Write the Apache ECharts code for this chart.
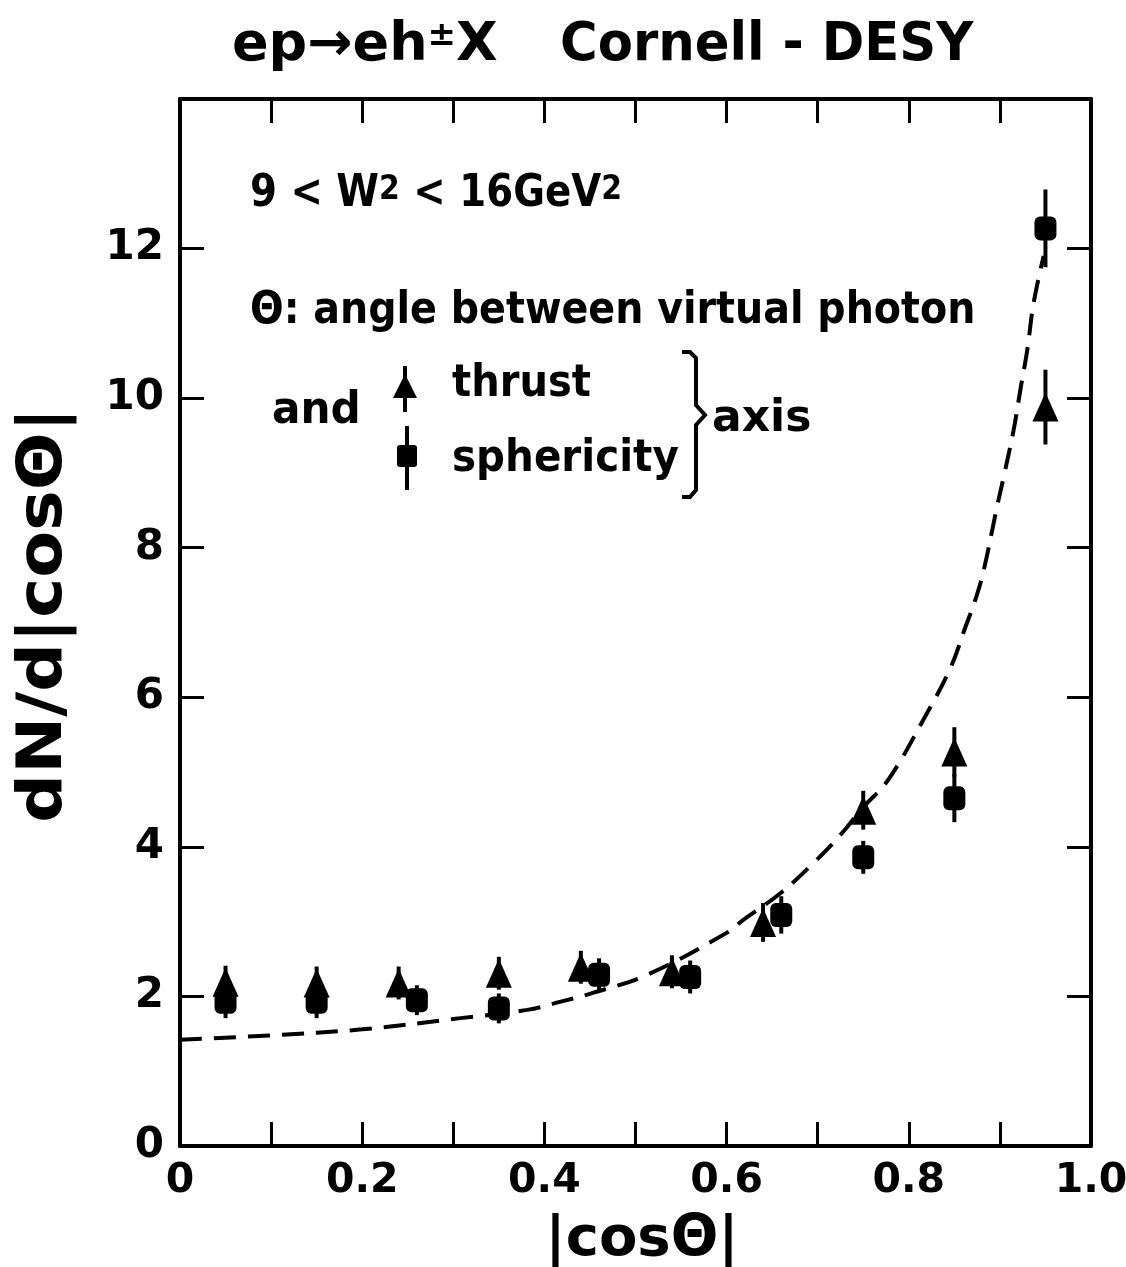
<!DOCTYPE html>
<html>
<head>
<meta charset="utf-8">
<script src="https://cdn.jsdelivr.net/npm/echarts@6/dist/echarts.min.js"></script>
<style>
  html, body { margin: 0; padding: 0; background: #fff; overflow: hidden; }
  #chart { width: 1126px; height: 1267px; }
</style>
</head>
<body>
<div id="chart"></div>
<script>
// thrust axis (triangles)
var thrustX   = [0.05, 0.15, 0.24, 0.35, 0.44, 0.54, 0.64, 0.75, 0.85, 0.95];
var thrustY   = [2.19, 2.18, 2.18, 2.31, 2.39, 2.33, 2.99, 4.49, 5.27, 9.88];
var thrustErr = [0.22, 0.22, 0.22, 0.22, 0.22, 0.22, 0.26, 0.26, 0.33, 0.50];
// sphericity axis (squares)
var spherX    = [0.05, 0.15, 0.26, 0.35, 0.46, 0.56, 0.66, 0.75, 0.85, 0.95];
var spherY    = [1.93, 1.93, 1.95, 1.84, 2.29, 2.26, 3.09, 3.86, 4.65, 12.27];
var spherErr  = [0.22, 0.22, 0.20, 0.20, 0.22, 0.22, 0.25, 0.22, 0.32, 0.52];
// dashed curve
var curveX = [0, 0.1, 0.2, 0.308, 0.381, 0.418, 0.454, 0.513, 0.6, 0.618, 0.659, 0.695, 0.725, 0.75,
              0.777, 0.816, 0.846, 0.861, 0.874, 0.883, 0.896, 0.904, 0.915, 0.923, 0.93, 0.937, 0.948];
var curveY = [1.42, 1.48, 1.56, 1.71, 1.82, 1.93, 2.05, 2.29, 2.85, 3.02, 3.38, 3.78, 4.16, 4.53,
              4.89, 5.70, 6.40, 6.90, 7.34, 7.74, 8.50, 8.94, 9.57, 10.15, 10.64, 11.27, 11.9];
var xTickLabels = ['0', '0.2', '0.4', '0.6', '0.8', '1.0'];
var yTickLabels = ['0', '2', '4', '6', '8', '10', '12'];

var FONT = "'DejaVu Sans', 'Liberation Sans', sans-serif";

function zip3(a, b, c) {
    var out = [];
    for (var i = 0; i < a.length; i++) out.push([a[i], b[i], c[i]]);
    return out;
}
function zip2(a, b) {
    var out = [];
    for (var i = 0; i < a.length; i++) out.push([a[i], b[i]]);
    return out;
}

// vertical error bar drawn through the axes
function errBar(params, api) {
    var x = api.value(0), y = api.value(1), e = api.value(2);
    var p1 = api.coord([x, y + e]);
    var p2 = api.coord([x, y - e]);
    return {
        type: 'line',
        shape: { x1: p1[0], y1: p1[1], x2: p2[0], y2: p2[1] },
        style: { stroke: '#000', lineWidth: 4 }
    };
}

// bold text, squeezed a little to get the narrow look of the original lettering
function txt(x, y, s, size, sx) {
    return { type: 'text', x: x, y: y, scaleX: sx || 1, style: {
        text: s, font: 'bold ' + size + 'px ' + FONT, fill: '#000', textVerticalAlign: 'middle' } };
}

var chart = echarts.init(document.getElementById('chart'));

var axisLine = { show: true, onZero: false, lineStyle: { color: '#000', width: 4 } };
var tick = { show: true, inside: true, length: 24, lineStyle: { color: '#000', width: 3 } };

var option = {
    animation: false,
    backgroundColor: '#fff',
    grid: { left: 180, right: 35, top: 99, bottom: 121, containLabel: false, outerBoundsMode: 'none' },
    xAxis: [{
        type: 'value', min: 0, max: 1, interval: 0.1, position: 'bottom',
        axisLine: axisLine, axisTick: tick,
        axisLabel: {
            color: '#000', fontSize: 41, fontWeight: 'bold', fontFamily: FONT, margin: 15,
            formatter: function (v) {
                var k = Math.round(v * 10);
                return k % 2 === 0 ? xTickLabels[k / 2] : '';
            }
        },
        splitLine: { show: false }
    }, {
        type: 'value', min: 0, max: 1, interval: 0.1, position: 'top',
        axisLine: axisLine, axisTick: tick,
        axisLabel: { show: false },
        splitLine: { show: false }
    }],
    yAxis: [{
        type: 'value', min: 0, max: 14, interval: 2, position: 'left',
        axisLine: axisLine, axisTick: tick,
        axisLabel: {
            color: '#000', fontSize: 42, fontWeight: 'bold', fontFamily: FONT, margin: 16,
            formatter: function (v) {
                var k = Math.round(v / 2);
                return k < yTickLabels.length ? yTickLabels[k] : '';
            }
        },
        splitLine: { show: false }
    }, {
        type: 'value', min: 0, max: 14, interval: 2, position: 'right',
        axisLine: axisLine, axisTick: tick,
        axisLabel: { show: false },
        splitLine: { show: false }
    }],
    series: [{
        type: 'line',
        data: zip2(curveX, curveY),
        smooth: 0.4,
        symbol: 'none',
        lineStyle: { color: '#000', width: 4, type: [22, 12] },
        z: 1
    }, {
        type: 'custom',
        renderItem: errBar,
        data: zip3(thrustX, thrustY, thrustErr),
        z: 2
    }, {
        type: 'custom',
        renderItem: errBar,
        data: zip3(spherX, spherY, spherErr),
        z: 2
    }, {
        type: 'scatter',
        data: zip2(thrustX, thrustY),
        symbol: 'triangle',
        symbolSize: [26, 29],
        itemStyle: { color: '#000', opacity: 1 },
        z: 3
    }, {
        type: 'scatter',
        data: zip2(spherX, spherY),
        symbol: 'roundRect',
        symbolSize: [22, 24],
        itemStyle: { color: '#000', opacity: 1 },
        z: 3
    }],
    graphic: [
        // title
        { type: 'text', x: 232, y: 46, style: {
            text: '{n|ep\u2192eh}{s|\u00b1}{n|X}', textVerticalAlign: 'middle',
            rich: {
                n: { font: 'bold 54px ' + FONT, fill: '#000' },
                s: { font: 'bold 34px ' + FONT, fill: '#000', verticalAlign: 'top' }
            } } },
        txt(560, 46, 'Cornell - DESY', 54, 0.95),
        // y axis name
        { type: 'text', x: 14, y: 615, rotation: Math.PI / 2, scaleX: 1.1, style: {
            text: 'dN/d|cos\u0398|', font: 'bold 62px ' + FONT, fill: '#000',
            textAlign: 'center', textVerticalAlign: 'top' } },
        // x axis name
        { type: 'text', x: 642, y: 1240, style: {
            text: '|cos\u0398|', font: 'bold 56px ' + FONT, fill: '#000',
            textAlign: 'center', textVerticalAlign: 'middle' } },
        // W range
        { type: 'text', x: 250, y: 195, scaleX: 0.88, style: {
            text: '{n|9 < W}{s|2}{n| < 16GeV}{s|2}',
            textVerticalAlign: 'middle',
            rich: {
                n: { font: 'bold 44px ' + FONT, fill: '#000', verticalAlign: 'bottom' },
                s: { font: 'bold 34px ' + FONT, fill: '#000', verticalAlign: 'top' }
            } } },
        txt(250, 312, '\u0398: angle between virtual photon', 44, 0.9),
        txt(272, 412, 'and', 44, 0.96),
        txt(452, 385, 'thrust', 44, 0.91),
        txt(452, 460, 'sphericity', 44, 0.92),
        txt(712, 420, 'axis', 44),
        // legend symbols
        { type: 'line', shape: { x1: 405, y1: 366, x2: 405, y2: 412 }, style: { stroke: '#000', lineWidth: 4 } },
        { type: 'polygon', shape: { points: [[405, 374], [393, 398], [417, 398]] }, style: { fill: '#000' } },
        { type: 'line', shape: { x1: 407, y1: 426, x2: 407, y2: 490 }, style: { stroke: '#000', lineWidth: 4 } },
        { type: 'rect', shape: { x: 397, y: 445, width: 20, height: 22, r: 3 }, style: { fill: '#000' } },
        // bracket
        { type: 'polyline', shape: { points: [[682, 352], [690, 352], [696, 358], [696, 405], [705, 415],
            [696, 425], [696, 490], [690, 497], [682, 497]] },
          style: { stroke: '#000', lineWidth: 4, fill: null } }
    ]
};

chart.setOption(option);
window.onresize = chart.resize;
</script>
</body>
</html>
